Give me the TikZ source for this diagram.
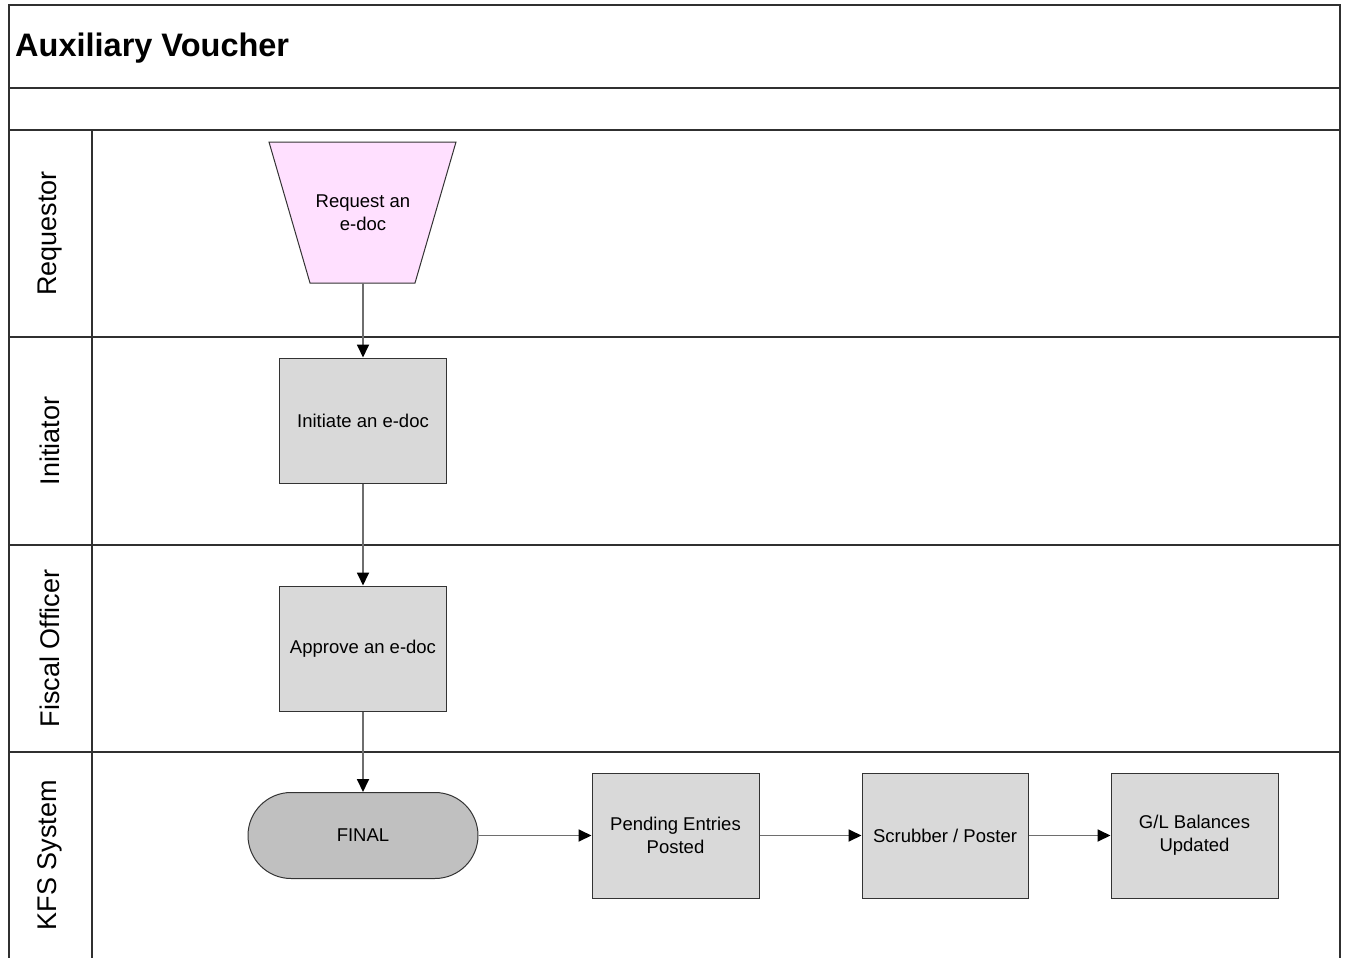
\documentclass[tikz,border=0pt]{standalone}
\usepackage{fontspec}
\setmainfont{Liberation Sans}
\usetikzlibrary{arrows.meta}
\definecolor{boxgray}{HTML}{D9D9D9}
\definecolor{finalgray}{HTML}{C0C0C0}
\definecolor{reqpink}{HTML}{FFE0FF}
\definecolor{framec}{HTML}{303030}
\definecolor{linkc}{HTML}{6E6E6E}
\tikzset{
  frameline/.style={draw=framec, line width=1.4pt},
  procbox/.style={draw=black!80, fill=boxgray, line width=1pt, minimum width=167pt, minimum height=125pt, inner sep=0pt, align=center, font=\fontsize{18.5}{23}\selectfont},
  termbox/.style={draw=black!80, fill=finalgray, line width=1pt, rounded corners=43pt, minimum width=230pt, minimum height=86pt, inner sep=0pt, align=center, font=\fontsize{18.5}{23}\selectfont},
  lanelabel/.style={rotate=90, font=\fontsize{27}{30}\selectfont},
  link/.style={draw=linkc, line width=1.8pt, -{Triangle[length=13pt,width=12pt,color=black]}},
  twoline/.style={text depth=-4pt},
}
\begin{document}
\begin{tikzpicture}[x=1pt,y=-1pt]
\useasboundingbox (0,0) rectangle (1345,958);
% frame
\draw[frameline] (9,958) -- (9,5) -- (1340,5) -- (1340,958);
\draw[frameline] (9,88) -- (1340,88);
\draw[frameline] (9,130) -- (1340,130);
\draw[frameline] (9,337) -- (1340,337);
\draw[frameline] (9,545) -- (1340,545);
\draw[frameline] (9,752) -- (1340,752);
\draw[frameline] (92,130) -- (92,958);
% title
\node[anchor=west, font=\bfseries\fontsize{32.5}{36}\selectfont, inner sep=0pt] (title) at (15,48.5) {Auxiliary Voucher};
% lane labels
\node[lanelabel] (l1) at (50,233.5) {Requestor};
\node[lanelabel] (l2) at (50,441) {Initiator};
\node[lanelabel] (l3) at (50,648.5) {Fiscal Officer};
\node[lanelabel] (l4) at (50,855) {KFS System};
% request trapezoid
\draw[draw=black!80, fill=reqpink, line width=1pt] (269,142) -- (456,142) -- (415,283) -- (310,283) -- cycle;
\node[minimum width=105pt, minimum height=141pt, inner sep=0pt] (req) at (363,212.5) {};
\node[align=center, font=\fontsize{18.5}{23}\selectfont] (reqtext) at (363,213) {Request an\\e-doc};
% process nodes
\node[procbox] (init) at (363,420.5) {Initiate an e-doc};
\node[procbox] (appr) at (363,648.5) {Approve an e-doc};
\node[termbox] (final) at (363,835.5) {FINAL};
\node[procbox] (pend) at (675.5,835.5) {Pending Entries\\Posted};
\node[procbox, minimum width=166pt] (scrub) at (945,835.5) {Scrubber / Poster};
\node[procbox] (gl) at (1194.5,835.5) {G/L Balances\\Updated};
% connectors
\draw[link] (req.south) -- (init.north);
\draw[link] (init.south) -- (appr.north);
\draw[link] (appr.south) -- (final.north);
\draw[link] (final.east) -- (pend.west);
\draw[link] (pend.east) -- (scrub.west);
\draw[link] (scrub.east) -- (gl.west);
\end{tikzpicture}
\end{document}
